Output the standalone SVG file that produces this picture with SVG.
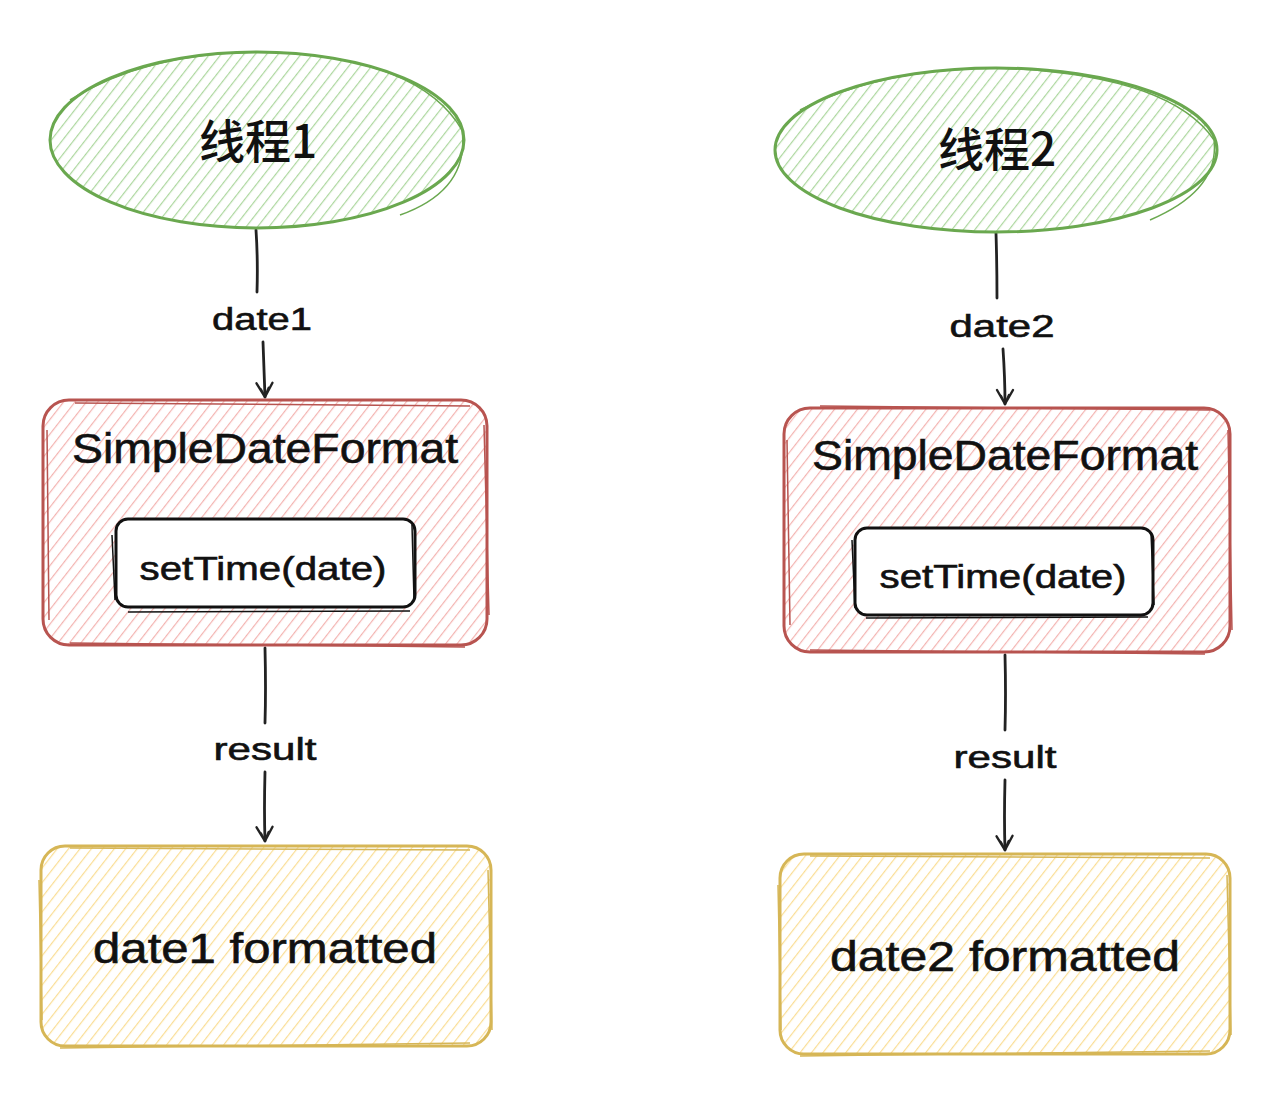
<svg xmlns="http://www.w3.org/2000/svg" width="1268" height="1118" viewBox="0 0 1268 1118">
<style>
.lbl{font-family:"Liberation Sans","Noto Sans CJK SC",sans-serif;fill:#111;stroke:#111;stroke-width:0.6;text-anchor:middle}
.cjk{font-family:"Noto Sans CJK SC","Noto Sans",sans-serif;fill:#111;text-anchor:middle;font-weight:500}
.gs{fill:none;stroke:#6aa84f;stroke-width:3}
.gs2{fill:none;stroke:#6aa84f;stroke-width:1.5}
.rs{fill:none;stroke:#b85450;stroke-width:3}
.rs2{fill:none;stroke:#b85450;stroke-width:1.5}
.ys{fill:none;stroke:#d6b656;stroke-width:3}
.ys2{fill:none;stroke:#d6b656;stroke-width:1.5}
.ks{fill:#fff;stroke:#111;stroke-width:3}
.ks2{fill:none;stroke:#111;stroke-width:1.5}
.edge{fill:none;stroke:#222;stroke-width:2.8;stroke-linecap:round}
</style>
<defs>
<pattern id="hg" width="9" height="9" patternUnits="userSpaceOnUse" patternTransform="rotate(38)"><line x1="0" y1="0" x2="0" y2="9" stroke="#acd79e" stroke-width="2.4"/></pattern>
<pattern id="hr" width="9" height="9" patternUnits="userSpaceOnUse" patternTransform="rotate(38)"><line x1="0" y1="0" x2="0" y2="9" stroke="#f3b3b0" stroke-width="2.4"/></pattern>
<pattern id="hy" width="9" height="9" patternUnits="userSpaceOnUse" patternTransform="rotate(38)"><line x1="0" y1="0" x2="0" y2="9" stroke="#fadd94" stroke-width="2.4"/></pattern>
<marker id="arr" viewBox="0 0 22 22" refX="20" refY="11" markerWidth="22" markerHeight="22" markerUnits="userSpaceOnUse" orient="auto">
<path d="M6 3 L20 11 L6 19 M11 7 L20 11 L12 15" fill="none" stroke="#222" stroke-width="2.4" stroke-linecap="round" stroke-linejoin="round"/>
</marker>
</defs>
<rect width="1268" height="1118" fill="#fff"/>

<g id="connectors">
<path class="edge" d="M256 230 Q258 260 257 292"/>
<path class="edge" d="M263 342 Q264 370 265 397" marker-end="url(#arr)"/>
<text class="lbl" x="262" y="330" font-size="32" textLength="100" lengthAdjust="spacingAndGlyphs">date1</text>
<path class="edge" d="M265 648 Q266 690 265 723"/>
<path class="edge" d="M265 772 Q264 810 265 841" marker-end="url(#arr)"/>
<text class="lbl" x="265" y="760" font-size="32" textLength="103" lengthAdjust="spacingAndGlyphs">result</text>

<path class="edge" d="M996 233 Q997 265 997 298"/>
<path class="edge" d="M1003 349 Q1005 378 1005 404" marker-end="url(#arr)"/>
<text class="lbl" x="1002" y="337" font-size="32" textLength="105" lengthAdjust="spacingAndGlyphs">date2</text>
<path class="edge" d="M1005 655 Q1006 695 1005 730"/>
<path class="edge" d="M1005 780 Q1004 818 1005 850" marker-end="url(#arr)"/>
<text class="lbl" x="1005" y="768" font-size="32" textLength="103" lengthAdjust="spacingAndGlyphs">result</text>
</g>

<g id="thread1">
<ellipse cx="257" cy="140" rx="207" ry="88" fill="url(#hg)"/>
<ellipse class="gs" cx="257" cy="140" rx="207" ry="88"/>
<path class="gs2" d="M70 100 Q150 50 270 52 Q420 58 462 130 Q470 190 400 215"/>
<text class="cjk" x="258" y="158" font-size="46">线程1</text>
</g>

<g id="thread2">
<ellipse cx="996" cy="150" rx="221" ry="82" fill="url(#hg)"/>
<ellipse class="gs" cx="996" cy="150" rx="221" ry="82"/>
<path class="gs2" d="M800 110 Q880 68 1000 68 Q1170 75 1214 140 Q1220 190 1150 220"/>
<text class="cjk" x="997" y="166" font-size="46">线程2</text>
</g>

<g id="sdf1">
<rect x="43" y="400" width="444" height="245" rx="26" fill="url(#hr)"/>
<rect class="rs" x="43" y="400" width="444" height="245" rx="26"/>
<path class="rs2" d="M75 403 L470 406 M47 430 L49 620 M484 425 L489 615 M70 643 L465 647"/>
<text class="lbl" x="265" y="463" font-size="42" textLength="386" lengthAdjust="spacingAndGlyphs">SimpleDateFormat</text>
</g>
<g id="settime1">
<rect class="ks" x="116" y="519" width="299" height="88" rx="12"/>
<path class="ks2" d="M112 535 L115 600 M128 612 L410 611 M412 525 L414 600"/>
<text class="lbl" x="263" y="580" font-size="33" textLength="247" lengthAdjust="spacingAndGlyphs">setTime(date)</text>
</g>

<g id="sdf2">
<rect x="784" y="408" width="446" height="244" rx="26" fill="url(#hr)"/>
<rect class="rs" x="784" y="408" width="446" height="244" rx="26"/>
<path class="rs2" d="M820 406 L1210 410 M787 440 L790 625 M1228 430 L1232 630 M810 650 L1205 654"/>
<text class="lbl" x="1005" y="470" font-size="42" textLength="386" lengthAdjust="spacingAndGlyphs">SimpleDateFormat</text>
</g>
<g id="settime2">
<rect class="ks" x="855" y="528" width="298" height="87" rx="12"/>
<path class="ks2" d="M852 540 L855 608 M866 618 L1148 617 M1151 533 L1154 605"/>
<text class="lbl" x="1003" y="588" font-size="33" textLength="247" lengthAdjust="spacingAndGlyphs">setTime(date)</text>
</g>

<g id="result1">
<rect x="41" y="846" width="450" height="200" rx="24" fill="url(#hy)"/>
<rect class="ys" x="41" y="846" width="450" height="200" rx="24"/>
<path class="ys2" d="M70 848 L470 850 M39 880 L42 1020 M488 870 L492 1030 M60 1048 L470 1043"/>
<text class="lbl" x="265" y="963" font-size="42" textLength="344" lengthAdjust="spacingAndGlyphs">date1 formatted</text>
</g>

<g id="result2">
<rect x="780" y="854" width="450" height="200" rx="24" fill="url(#hy)"/>
<rect class="ys" x="780" y="854" width="450" height="200" rx="24"/>
<path class="ys2" d="M810 856 L1210 858 M778 885 L781 1030 M1227 875 L1231 1035 M800 1056 L1210 1051"/>
<text class="lbl" x="1005" y="971" font-size="42" textLength="350" lengthAdjust="spacingAndGlyphs">date2 formatted</text>
</g>
</svg>
